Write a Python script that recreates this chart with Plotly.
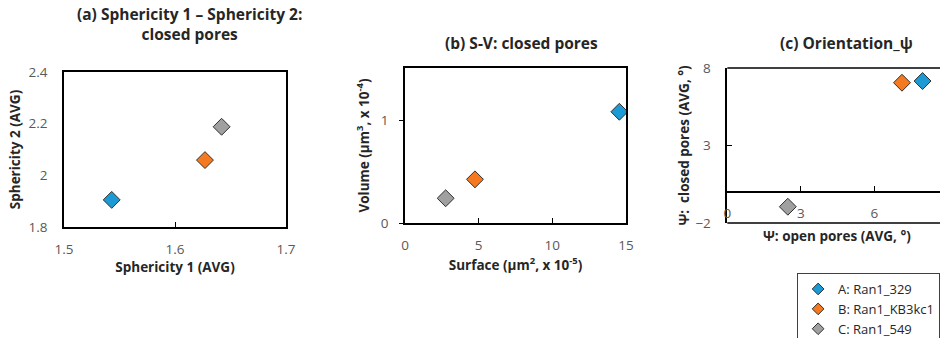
import plotly.graph_objects as go

# ---- data ----
samples = ["A: Ran1_329", "B: Ran1_KB3kc1", "C: Ran1_549"]
colors = ["#1b9ad6", "#f47920", "#a0a0a0"]

# (a) Sphericity 1 vs Sphericity 2 (closed pores)
sph1 = [1.543, 1.627, 1.642]
sph2 = [1.905, 2.059, 2.188]
# (b) Surface vs Volume (closed pores)
surface = [14.55, 4.75, 2.76]
volume = [1.08, 0.424, 0.24]
# (c) Orientation psi: open vs closed pores
psi_open = [7.97, 7.13, 2.47]
psi_closed = [7.16, 7.05, -0.95]

W, H = 940, 338
FONT = "Open Sans"
TICKC = "#595959"
TXT = "#262626"
EDGE = "#303030"

fig = go.Figure()
panels = [(sph1, sph2, "x", "y"), (surface, volume, "x2", "y2"), (psi_open, psi_closed, "x3", "y3")]
for p, (xs, ys, xa, ya) in enumerate(panels):
    for i, name in enumerate(samples):
        fig.add_trace(go.Scatter(
            x=[xs[i]], y=[ys[i]], mode="markers", name=name, legendgroup=name,
            showlegend=False, xaxis=xa, yaxis=ya,
            marker=dict(symbol="diamond", size=13, color=colors[i],
                        line=dict(color=EDGE, width=1)),
        ))
# legend entries (smaller symbols, as in the reference legend)
for i, name in enumerate(samples):
    fig.add_trace(go.Scatter(
        x=[None], y=[None], mode="markers", name=name, legendgroup=name, showlegend=True,
        xaxis="x3", yaxis="y3",
        marker=dict(symbol="diamond", size=9, color=colors[i], line=dict(color=EDGE, width=1)),
    ))

def px_x(a, b):
    return [a / W, b / W]

def px_y(top, bottom):
    return [1 - bottom / H, 1 - top / H]

dom_a_x, dom_a_y = px_x(64, 286), px_y(72, 227)
dom_b_x, dom_b_y = px_x(405, 626), px_y(68, 223)
dom_c_x, dom_c_y = [727.3 / W, 1.0], px_y(68, 223)

c_yrange = [-2, 8]
c_xrange = [0, (W - 727.3) / 24.5]
zero_pos = dom_c_y[0] + (0 - c_yrange[0]) / (c_yrange[1] - c_yrange[0]) * (dom_c_y[1] - dom_c_y[0])

tickfont = dict(family=FONT, size=13.5, color=TICKC)
titlefont = dict(family=FONT, size=13.5, color=TXT, weight="bold")
frame = dict(showline=True, mirror=True, linecolor="black", linewidth=1.5,
             showgrid=False, zeroline=False, tickfont=tickfont)

fig.update_layout(
    width=W, height=H, margin=dict(l=0, r=0, t=0, b=0, autoexpand=False),
    paper_bgcolor="white", plot_bgcolor="white",
    font=dict(family=FONT, color=TXT),
    xaxis=dict(domain=dom_a_x, anchor="y", range=[1.5, 1.7], dtick=0.1,
               ticks="inside", ticklen=5, tickcolor="black", ticklabelstandoff=9,
               title=dict(text="Sphericity 1 (AVG)", font=titlefont, standoff=1), **frame),
    yaxis=dict(domain=dom_a_y, anchor="x", range=[1.8, 2.4], dtick=0.2,
               ticks="", ticklabelstandoff=12,
               title=dict(text="Sphericity 2 (AVG)", font=titlefont, standoff=5), **frame),
    xaxis2=dict(domain=dom_b_x, anchor="y2", range=[0, 15], dtick=5,
                ticks="inside", ticklen=5, tickcolor="black", ticklabelstandoff=9,
                title=dict(text="Surface (µm<sup>2</sup>, x 10<sup>-5</sup>)", font=titlefont, standoff=2), **frame),
    yaxis2=dict(domain=dom_b_y, anchor="x2", range=[0, 1.505], dtick=1,
                ticks="outside", ticklen=4, tickcolor="black", ticklabelstandoff=8,
                title=dict(text="Volume (µm<sup>3</sup>, x 10<sup>-4</sup>)", font=titlefont, standoff=8), **frame),
    xaxis3=dict(domain=dom_c_x, anchor="free", position=zero_pos, range=c_xrange, dtick=3,
                showline=True, linecolor="black", linewidth=1.5, showgrid=False, zeroline=False,
                ticks="inside", ticklen=5, tickcolor="black", ticklabelstandoff=9,
                tickfont=tickfont),
    yaxis3=dict(domain=dom_c_y, anchor="x3", range=c_yrange, tickvals=[-2, 3, 8],
                showline=True, linecolor="black", linewidth=1.5, showgrid=False, zeroline=False,
                ticks="inside", ticklen=5, tickcolor="black", ticklabelstandoff=12, tickfont=tickfont,
                title=dict(text="Ψ:  closed pores (AVG, °)", font=titlefont, standoff=3)),
    legend=dict(x=0.848, y=1 - 273 / H, xanchor="left", yanchor="top",
                bordercolor="#404040", borderwidth=1, bgcolor="white",
                font=dict(family=FONT, size=13, color=TXT), tracegroupgap=0,
                itemwidth=30),
    showlegend=True,
)

# frame lines of panel (c) (top and bottom)
for yy in (0, 1):
    fig.add_shape(type="line", xref="x3 domain", yref="y3 domain", x0=0, x1=1, y0=yy, y1=yy,
                  line=dict(color="black", width=1.5))

ttl = dict(family=FONT, size=15.5, color=TXT, weight="bold")
fig.add_annotation(text="(a) Sphericity 1 – Sphericity 2:<br>closed pores", x=189 / W, y=1 - 1 / H,
                   xref="paper", yref="paper", xanchor="center", yanchor="top", showarrow=False,
                   font=ttl, align="center")
fig.add_annotation(text="(b) S-V: closed pores", x=521 / W, y=1 - 43 / H,
                   xref="paper", yref="paper", xanchor="center", yanchor="middle", showarrow=False, font=ttl)
fig.add_annotation(text="(c) Orientation_ψ", x=846 / W, y=1 - 43 / H,
                   xref="paper", yref="paper", xanchor="center", yanchor="middle", showarrow=False, font=ttl)
fig.add_annotation(text="Ψ: open pores (AVG, °)", x=837 / W, y=1 - 236 / H,
                   xref="paper", yref="paper", xanchor="center", yanchor="middle", showarrow=False,
                   font=titlefont)

fig.write_html("out.html")
